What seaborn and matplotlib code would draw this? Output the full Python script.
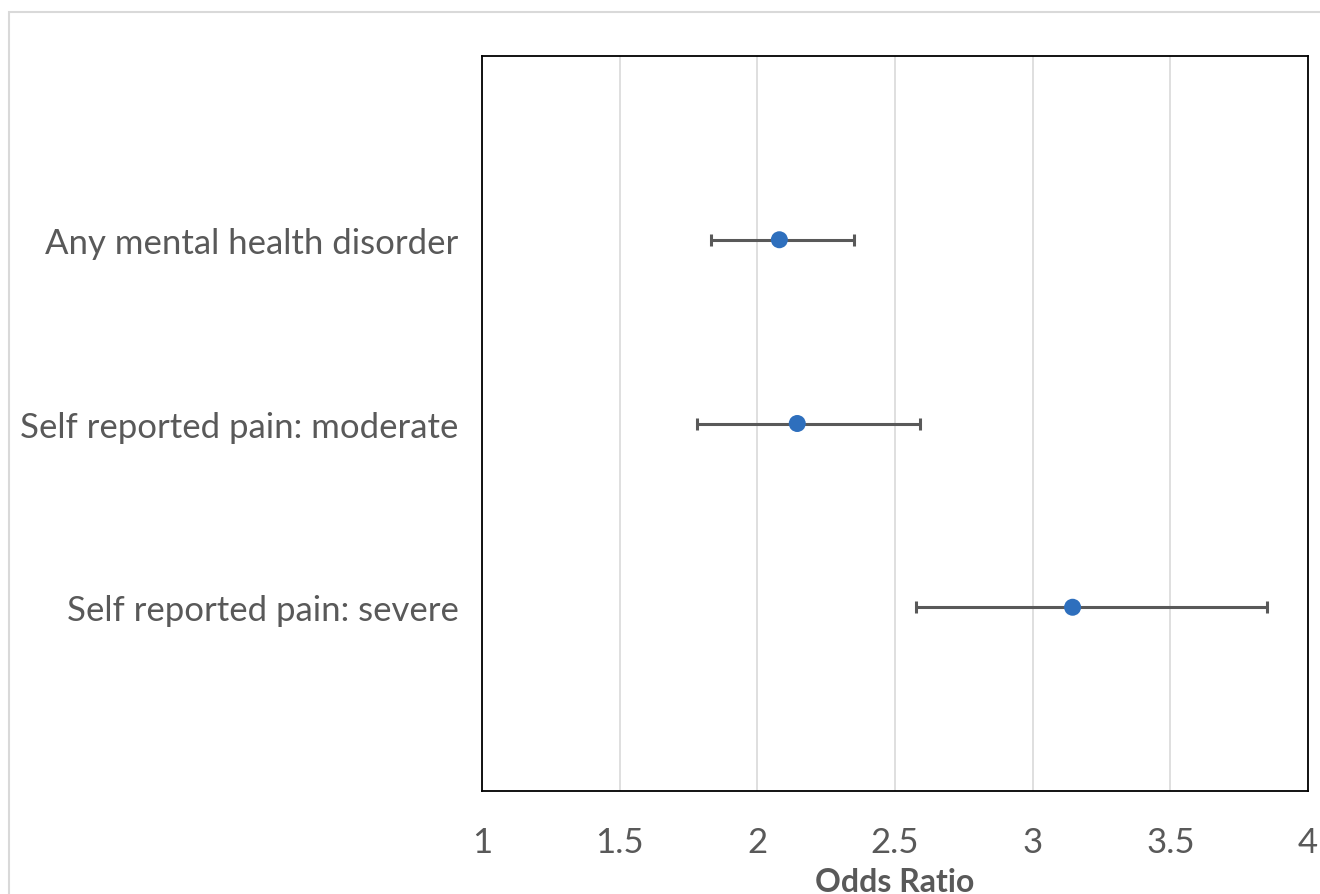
import matplotlib
matplotlib.use("Agg")
import matplotlib.pyplot as plt
import matplotlib.patches as mpatches
import seaborn as sns
import pandas as pd

# --------------------------------------------------
# Data
# --------------------------------------------------
outcomes = [
    "Any mental health disorder",
    "Self reported pain: moderate",
    "Self reported pain: severe",
]
odds_ratio = [2.08, 2.145, 3.145]
ci_low = [1.83, 1.78, 2.575]
ci_high = [2.35, 2.59, 3.85]
x_ticks = [1, 1.5, 2, 2.5, 3, 3.5, 4]

df = pd.DataFrame({
    "outcome": outcomes,
    "or": odds_ratio,
    "lo": ci_low,
    "hi": ci_high,
})

sns.set_theme(style="white")
plt.rcParams["font.family"] = ["Lato", "DejaVu Sans"]

text_col = "#595959"

fig = plt.figure(figsize=(13.2, 8.95), dpi=100)
ax = fig.add_axes([482 / 1320, 1 - 792 / 895, (1308 - 482) / 1320, (792 - 57) / 895])

# light border around the chart area
fig.patches.append(mpatches.Rectangle(
    (9 / 1320, -0.05), 1.2, 1 - 13 / 895 + 0.05,
    transform=fig.transFigure, fill=False, edgecolor="#d9d9d9", linewidth=1.5,
))

# confidence intervals
ax.errorbar(
    df["or"], df["outcome"],
    xerr=[df["or"] - df["lo"], df["hi"] - df["or"]],
    fmt="none", ecolor="#595959", elinewidth=2.2, capsize=4, capthick=2.2, zorder=2,
)

sns.scatterplot(
    data=df, x="or", y="outcome", ax=ax,
    color="#2e6fbd", s=150, edgecolor="none", zorder=3, legend=False,
)

ax.set_xlim(1, 4)
ax.set_ylim(2.0 + 1, -1)
ax.set_xticks(x_ticks)
ax.set_xticklabels([f"{t:g}" for t in x_ticks])
ax.xaxis.grid(True, color="#d9d9d9", linewidth=1.2)
ax.set_axisbelow(True)

ax.tick_params(axis="x", length=0, pad=25, labelsize=25, labelcolor=text_col)
ax.tick_params(axis="y", length=0, pad=17, labelsize=25, labelcolor=text_col)

ax.set_xlabel("Odds Ratio", fontsize=23, fontweight="bold", color=text_col, labelpad=7)
ax.set_ylabel("")

for side in ["top", "bottom", "left", "right"]:
    ax.spines[side].set_visible(True)
    ax.spines[side].set_color("#000000")
    ax.spines[side].set_linewidth(1.3)

plt.savefig("out.png", dpi=100)
plt.close()
